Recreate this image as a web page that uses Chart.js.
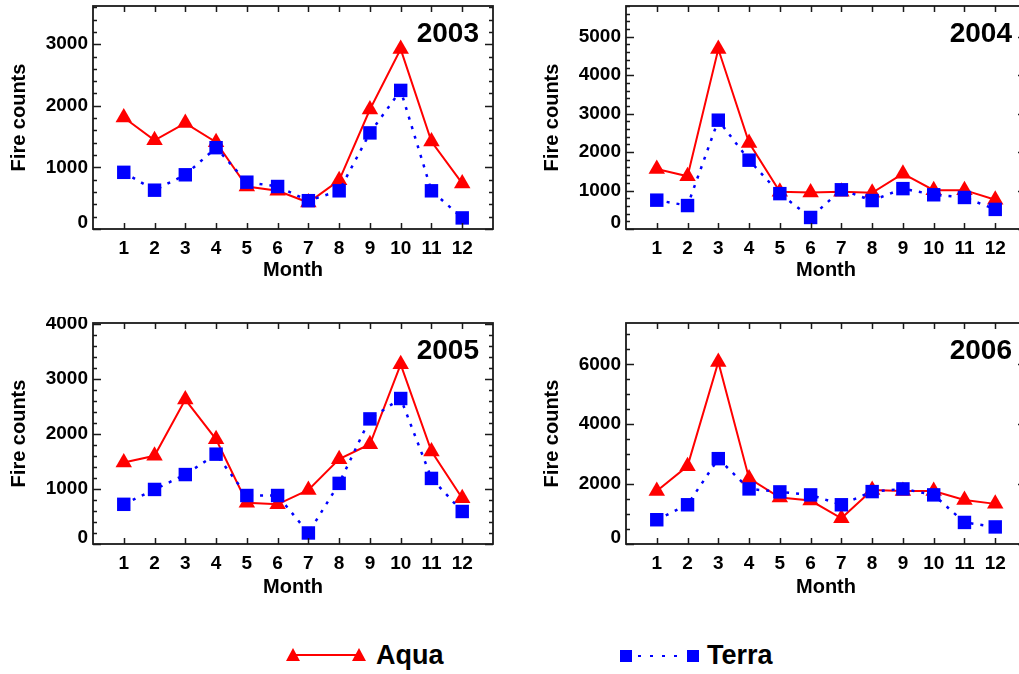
<!DOCTYPE html>
<html>
<head>
<meta charset="utf-8">
<script src="https://cdn.jsdelivr.net/npm/chart.js@4.4.1/dist/chart.umd.min.js"></script>
<style>
  html, body { margin: 0; padding: 0; background: #fff; overflow: hidden; }
  #page { position: relative; width: 1019px; height: 674px; overflow: hidden; }
  #page canvas { position: absolute; }
  .leg { position: absolute; font-family: "Liberation Sans", Arial, sans-serif; font-weight: bold; font-size: 27px; line-height: 27px; color: #000; }
  .tri { position: absolute; width: 0; height: 0; border-left: 7.5px solid transparent; border-right: 7.5px solid transparent; border-bottom: 13px solid #ff0000; }
  .sq { position: absolute; width: 12px; height: 12px; background: #0000ff; }
</style>
</head>
<body>
<div id="page">
  <canvas id="c2003" width="520" height="300" style="left:0;top:0"></canvas>
  <canvas id="c2004" width="520" height="300" style="left:533px;top:0"></canvas>
  <canvas id="c2005" width="520" height="300" style="left:0;top:317px"></canvas>
  <canvas id="c2006" width="520" height="300" style="left:533px;top:317px"></canvas>

  <!-- legend -->
  <div style="position:absolute;left:294px;top:654px;width:66px;height:2px;background:#ff0000"></div>
  <div class="tri" style="left:286px;top:648px"></div>
  <div class="tri" style="left:352px;top:648px"></div>
  <div class="leg" style="left:376px;top:642px">Aqua</div>

  <div style="position:absolute;left:638px;top:655px;width:46px;height:2px;background:repeating-linear-gradient(to right,#0000ff 0 3px,transparent 3px 12px)"></div>
  <div class="sq" style="left:620px;top:650px"></div>
  <div class="sq" style="left:687px;top:650px"></div>
  <div class="leg" style="left:707px;top:642px">Terra</div>
</div>

<script>
var months = [1, 2, 3, 4, 5, 6, 7, 8, 9, 10, 11, 12];

var aqua2003  = [1810, 1440, 1720, 1410, 690, 620, 430, 790, 1940, 2920, 1420, 740];
var terra2003 = [920, 630, 880, 1320, 760, 690, 460, 620, 1560, 2250, 620, 180];

var aqua2004  = [1560, 1370, 4680, 2240, 970, 950, 970, 940, 1440, 1010, 1010, 760];
var terra2004 = [750, 610, 2830, 1790, 920, 300, 1020, 740, 1050, 890, 820, 510];

var aqua2005  = [1480, 1600, 2620, 1900, 750, 720, 980, 1540, 1810, 3260, 1680, 830];
var terra2005 = [720, 990, 1260, 1630, 880, 880, 200, 1100, 2270, 2640, 1190, 590];

var aqua2006  = [1770, 2600, 6080, 2190, 1550, 1450, 860, 1800, 1770, 1770, 1470, 1340];
var terra2006 = [810, 1310, 2850, 1840, 1740, 1640, 1310, 1750, 1840, 1640, 720, 570];

var yTicks2003 = [0, 1000, 2000, 3000];
var yTicks2004 = [0, 1000, 2000, 3000, 4000, 5000];
var yTicks2005 = [0, 1000, 2000, 3000, 4000];
var yTicks2006 = [0, 2000, 4000, 6000];

var FONT = '"Liberation Sans", Arial, sans-serif';

// box frame with inward ticks + year label
var frameTicks = {
  id: 'frameTicks',
  afterDatasetsDraw: function(chart, args, opts) {
    var ctx = chart.ctx, a = chart.chartArea;
    var x = chart.scales.x, y = chart.scales.y;
    ctx.save();
    ctx.strokeStyle = '#1a1a1a';
    ctx.lineWidth = 1.5;
    ctx.beginPath();
    for (var v = 0; v <= y.max; v += opts.minor) {
      var py = Math.round(y.getPixelForValue(v)) + 0.5;
      var len = opts.majors.indexOf(v) >= 0 ? 8 : 4;
      ctx.moveTo(a.left, py); ctx.lineTo(a.left + len, py);
      ctx.moveTo(a.right, py); ctx.lineTo(a.right - len, py);
    }
    months.forEach(function(m) {
      var px = Math.round(x.getPixelForValue(m)) + 0.5;
      ctx.moveTo(px, a.bottom); ctx.lineTo(px, a.bottom - 6);
      ctx.moveTo(px, a.top); ctx.lineTo(px, a.top + 6);
    });
    ctx.stroke();
    ctx.lineWidth = 1.8;
    ctx.strokeRect(a.left, a.top, a.right - a.left, a.bottom - a.top);
    ctx.fillStyle = '#000';
    ctx.font = 'bold 28px ' + FONT;
    ctx.textAlign = 'right';
    ctx.textBaseline = 'middle';
    ctx.fillText(opts.year, a.right - 14, a.top + 28);
    ctx.restore();
  }
};

function makeChart(id, year, aqua, terra, yMax, yTicks, minor, bottomRow) {
  var pts = function(arr) { return months.map(function(m, i) { return {x: m, y: arr[i]}; }); };
  new Chart(document.getElementById(id), {
    type: 'line',
    data: {
      datasets: [
        {
          label: 'Aqua', data: pts(aqua), order: 2,
          borderColor: '#ff0000', backgroundColor: '#ff0000', borderWidth: 2,
          pointStyle: 'triangle', pointRadius: 9.5, pointBorderWidth: 0
        },
        {
          label: 'Terra', data: pts(terra), order: 1,
          borderColor: '#0000ff', backgroundColor: '#0000ff', borderWidth: 2.5, borderDash: [3, 7],
          pointStyle: 'rect', pointRadius: 9.5, pointBorderWidth: 0
        }
      ]
    },
    options: {
      responsive: false,
      animation: false,
      devicePixelRatio: 1,
      layout: { autoPadding: false, padding: { top: 6, right: 27, left: 0, bottom: bottomRow ? 2 : 0 } },
      plugins: {
        legend: { display: false },
        tooltip: { enabled: false },
        frameTicks: { year: year, minor: minor, majors: yTicks }
      },
      scales: {
        x: {
          type: 'linear', min: 0, max: 13,
          grid: { display: false, drawTicks: false },
          border: { display: false },
          afterBuildTicks: function(s) { s.ticks = months.map(function(v) { return {value: v}; }); },
          afterFit: function(s) { s.height = 71; s.paddingLeft = 0; s.paddingRight = 0; },
          ticks: { color: '#000', padding: 8, maxRotation: 0, autoSkip: false,
                   font: { family: FONT, size: 19, weight: 'bold' } },
          title: { display: true, text: 'Month', color: '#000',
                   font: { family: FONT, size: 20, weight: 'bold' },
                   padding: { top: 0, bottom: bottomRow ? 16 : 18 } }
        },
        y: {
          min: 0, max: yMax,
          grid: { display: false, drawTicks: false },
          border: { display: false },
          afterBuildTicks: function(s) { s.ticks = yTicks.map(function(v) { return {value: v}; }); },
          afterFit: function(s) { s.width = 93; s.paddingTop = 0; s.paddingBottom = 0; },
          ticks: {
            color: '#000', padding: 5,
            callback: function(v) { return v === 0 ? ['0', ''] : String(v); },
            font: function(c) {
              var zero = c.tick && c.tick.value === 0;
              return { family: FONT, size: 19, weight: 'bold', lineHeight: zero ? 0.66 : 1.2 };
            }
          },
          title: { display: true, text: 'Fire counts', color: '#000',
                   font: { family: FONT, size: 20, weight: 'bold' },
                   padding: { top: 7, bottom: 0 } }
        }
      }
    },
    plugins: [frameTicks]
  });
}

makeChart('c2003', '2003', aqua2003, terra2003, 3620, yTicks2003, 200, false);
makeChart('c2004', '2004', aqua2004, terra2004, 5800, yTicks2004, 200, false);
makeChart('c2005', '2005', aqua2005, terra2005, 4010, yTicks2005, 200, true);
makeChart('c2006', '2006', aqua2006, terra2006, 7380, yTicks2006, 500, true);
</script>
</body>
</html>
